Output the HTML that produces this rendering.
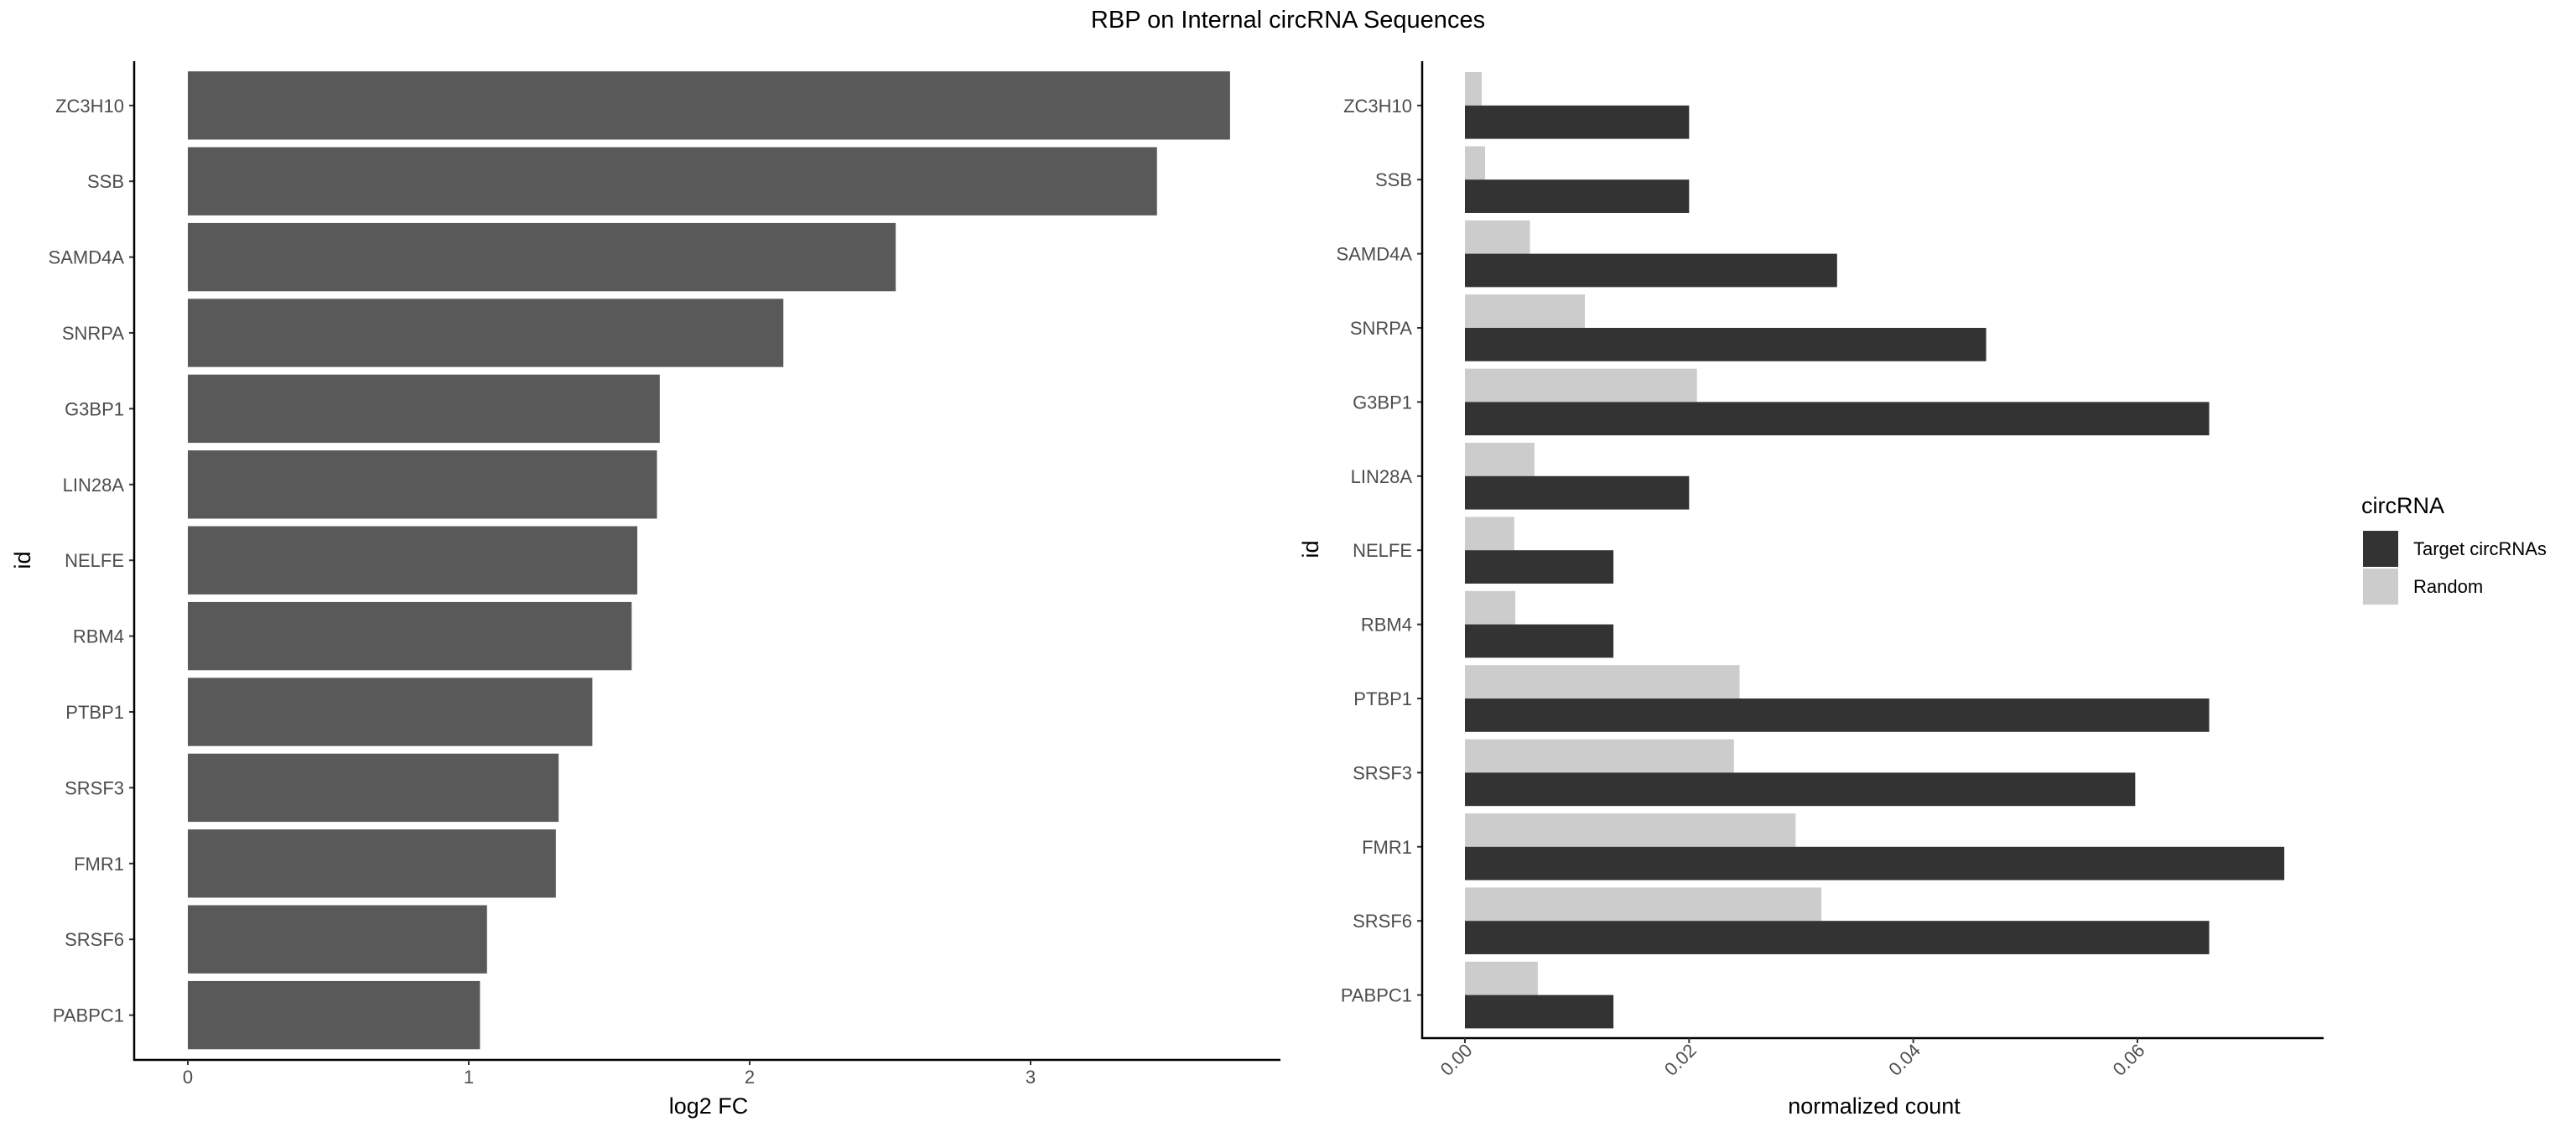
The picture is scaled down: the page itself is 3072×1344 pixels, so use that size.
<!DOCTYPE html>
<html><head><meta charset="utf-8"><style>
html,body{margin:0;padding:0;background:#fff;overflow:hidden}
svg{display:block;font-family:"Liberation Sans",sans-serif}
</style></head><body>
<svg id="chart" width="3072" height="1344" viewBox="0 0 3072 1344" xmlns="http://www.w3.org/2000/svg">
<text x="1536" y="33" font-size="29" text-anchor="middle" fill="#000">RBP on Internal circRNA Sequences</text>
<g id="left"></g>
<g id="right"></g>
<g>
<text x="2816" y="612" font-size="27" fill="#000">circRNA</text>
<rect x="2818" y="633" width="42" height="43" fill="#333333"/>
<text x="2878" y="662" font-size="22" fill="#000">Target circRNAs</text>
<rect x="2818" y="678" width="42" height="43" fill="#cccccc"/>
<text x="2878" y="707" font-size="22" fill="#000">Random</text>
</g>
</svg>
<script>
const categories = ["ZC3H10","SSB","SAMD4A","SNRPA","G3BP1","LIN28A","NELFE","RBM4","PTBP1","SRSF3","FMR1","SRSF6","PABPC1"];
const log2fc = [3.71,3.45,2.52,2.12,1.68,1.67,1.60,1.58,1.44,1.32,1.31,1.065,1.04];
const targetCount = [0.020,0.020,0.0332,0.0465,0.0664,0.020,0.01325,0.01325,0.0664,0.0598,0.0731,0.0664,0.01325];
const randomCount = [0.0015,0.0018,0.0058,0.0107,0.0207,0.0062,0.0044,0.0045,0.0245,0.0240,0.0295,0.0318,0.0065];
const leftTicks = [0,1,2,3];
const leftTickLabels = ["0","1","2","3"];
const rightTicks = [0,0.02,0.04,0.06];
const rightTickLabels = ["0.00","0.02","0.04","0.06"];

const NS="http://www.w3.org/2000/svg";
function mk(parent,tag,attrs,text){const e=document.createElementNS(NS,tag);for(const k in attrs)e.setAttribute(k,attrs[k]);if(text!==undefined)e.textContent=text;parent.appendChild(e);return e;}

// Left panel
const L=document.getElementById('left');
const lx=v=>224+v*335;
const ly=i=>125.8+i*90.4;
const lbw=0.9*90.4;
categories.forEach((c,i)=>{
  const r=mk(L,'rect',{x:lx(0),y:ly(i)-lbw/2,width:lx(log2fc[i])-lx(0),height:lbw,fill:'#595959'});
  
  
  const t=mk(L,'text',{x:148,y:ly(i)+8,'font-size':22,'text-anchor':'end',fill:'#4d4d4d'},c);
  
  
  mk(L,'line',{x1:154,x2:160,y1:ly(i),y2:ly(i),stroke:'#333','stroke-width':2});
});
let a=mk(L,'line',{x1:160,x2:160,y1:73,y2:1265,stroke:'#000','stroke-width':2.5});


a=mk(L,'line',{x1:159,x2:1527,y1:1264,y2:1264,stroke:'#000','stroke-width':2.5});


leftTicks.forEach((v,i)=>{
  mk(L,'line',{x1:lx(v),x2:lx(v),y1:1264,y2:1270,stroke:'#333','stroke-width':2});
  const t=mk(L,'text',{x:lx(v),y:1292,'font-size':22,'text-anchor':'middle',fill:'#4d4d4d'},leftTickLabels[i]);
  
  
});
let t=mk(L,'text',{x:845,y:1328,'font-size':27,'text-anchor':'middle',fill:'#000'},'log2 FC');


t=mk(L,'text',{x:0,y:0,'font-size':27,'text-anchor':'middle',fill:'#000',transform:'translate(36,668) rotate(-90)'},'id');



// Right panel
const R=document.getElementById('right');
const rx=v=>1747+v*13367;
const ry=i=>125.8+i*88.4;
const half=0.9*88.4/2;
categories.forEach((c,i)=>{
  const r1=mk(R,'rect',{x:rx(0),y:ry(i)-half,width:rx(randomCount[i])-rx(0),height:half,fill:'#cccccc'});
  
  
  const r2=mk(R,'rect',{x:rx(0),y:ry(i),width:rx(targetCount[i])-rx(0),height:half,fill:'#333333'});
  
  
  const tl=mk(R,'text',{x:1684,y:ry(i)+8,'font-size':22,'text-anchor':'end',fill:'#4d4d4d'},c);
  
  
  mk(R,'line',{x1:1690,x2:1696,y1:ry(i),y2:ry(i),stroke:'#333','stroke-width':2});
});
a=mk(R,'line',{x1:1696,x2:1696,y1:73,y2:1239,stroke:'#000','stroke-width':2.5});


a=mk(R,'line',{x1:1695,x2:2771,y1:1238,y2:1238,stroke:'#000','stroke-width':2.5});


rightTicks.forEach((v,i)=>{
  mk(R,'line',{x1:rx(v),x2:rx(v),y1:1238,y2:1244,stroke:'#333','stroke-width':2});
  const tl=mk(R,'text',{x:0,y:0,'font-size':22,'text-anchor':'end',fill:'#4d4d4d',transform:'translate('+(rx(v)+10)+',1254) rotate(-45)'},rightTickLabels[i]);
  
  
});
t=mk(R,'text',{x:2235,y:1328,'font-size':27,'text-anchor':'middle',fill:'#000'},'normalized count');


t=mk(R,'text',{x:0,y:0,'font-size':27,'text-anchor':'middle',fill:'#000',transform:'translate(1572,655) rotate(-90)'},'id');


</script>
</body></html>
